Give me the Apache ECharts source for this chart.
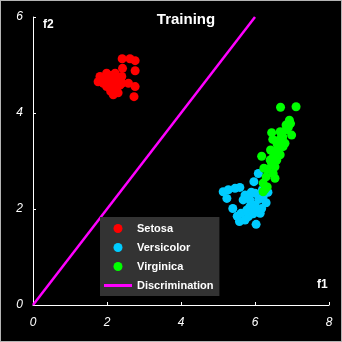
<!DOCTYPE html>
<html><head><meta charset="utf-8">
<script src="https://cdn.jsdelivr.net/npm/echarts@6/dist/echarts.min.js"></script>
<style>
html,body{margin:0;padding:0;background:#b4b4b4;}
#c{position:absolute;left:1px;top:1px;width:340px;height:340px;background:#000;}
</style></head>
<body><div id="c"></div>
<script>
const xTicks = [0, 2, 4, 6, 8];
const yTicks = [0, 2, 4, 6];
const setosa = [
[2.41,5.13],[2.62,5.13],[2.76,5.09],[2.42,4.93],[2.76,4.88],[1.99,4.83],[2.22,4.83],[1.81,4.76],
[1.90,4.69],[2.08,4.72],[2.26,4.72],[2.40,4.76],[2.58,4.62],[2.76,4.55],[1.99,4.55],[2.17,4.51],
[2.35,4.58],[2.17,4.38],[2.73,4.34],[1.90,4.62],[1.76,4.65],[2.05,4.65],[2.20,4.60],[2.30,4.68],
[2.12,4.78],[1.95,4.72],[2.25,4.50],[2.40,4.62],[2.10,4.45],[2.30,4.42],[2.00,4.60]
];
const versicolor = [
[5.14,2.36],[5.28,2.40],[5.46,2.43],[5.59,2.45],[5.24,2.22],[5.40,2.01],[5.52,1.85],[5.58,1.74],
[5.73,1.77],[5.82,1.84],[6.03,1.68],[5.91,1.94],[6.14,1.91],[6.00,2.08],[5.86,2.19],[5.68,2.19],
[5.73,2.29],[6.00,2.33],[6.30,2.13],[6.22,2.26],[5.97,2.57],[6.09,2.74],[6.18,2.01],[5.86,2.05],
[6.05,1.98],[5.62,1.91],[5.78,1.98],[6.10,2.20],[5.95,1.90],[6.20,2.40],[5.90,2.35],[6.35,2.35]
];
const virginica = [
[6.69,4.12],[7.11,4.13],[6.93,3.85],[6.96,3.78],[6.45,3.59],[6.68,3.61],[6.84,3.65],[6.99,3.54],
[6.48,3.45],[6.66,3.44],[6.81,3.37],[6.76,3.30],[6.63,3.23],[6.42,3.23],[6.68,3.13],[6.59,3.02],
[6.18,3.10],[6.41,3.02],[6.54,2.88],[6.33,2.83],[6.24,2.85],[6.49,2.74],[6.30,2.67],[6.54,2.64],
[6.22,2.54],[6.27,2.41],[6.33,2.46],[6.22,2.36],[6.84,3.75],[6.72,3.54],[6.60,3.35],[6.50,3.10],
[6.45,2.95],[6.75,3.50],[6.90,3.70],[6.55,3.20]
];
const discrimination = [[0,0],[6,6]];
const seriesNames = ['Setosa','Versicolor','Virginica','Discrimination'];
const colors = ['#ff0000','#00ccff','#00ff00','#ff00ff'];

const chart = echarts.init(document.getElementById('c'));
const font = 'Liberation Sans, Arial, sans-serif';
const axisCommon = {
  axisLine:{show:true,lineStyle:{color:'#fff',width:1}},
  axisTick:{show:true,inside:true,length:3,lineStyle:{color:'#fff'}},
  splitLine:{show:false},
  axisLabel:{color:'#fff',fontStyle:'italic',fontFamily:font,fontSize:12}
};
chart.setOption({
  backgroundColor:'#000',
  animation:false,
  title:{text:'Training',left:180,textAlign:'center',top:6,
    textStyle:{color:'#fff',fontSize:15,fontWeight:'bold',fontFamily:font}},
  grid:{left:32,right:12,top:16,bottom:36},
  xAxis:Object.assign({type:'value',min:xTicks[0],max:xTicks[xTicks.length-1],interval:2},axisCommon,
    {axisLabel:Object.assign({},axisCommon.axisLabel,{margin:12})}),
  yAxis:Object.assign({type:'value',min:yTicks[0],max:yTicks[yTicks.length-1],interval:2},axisCommon,
    {axisLabel:Object.assign({},axisCommon.axisLabel,{margin:10})}),
  legend:{
    orient:'vertical',left:99,top:216,
    backgroundColor:'#333333',padding:[6,6,5,4],
    itemWidth:28,itemHeight:9,itemGap:8,
    textStyle:{color:'#fff',fontSize:11,fontWeight:'bold',fontFamily:font},
    data:[
      {name:seriesNames[0],icon:'circle'},
      {name:seriesNames[1],icon:'circle'},
      {name:seriesNames[2],icon:'circle'},
      {name:seriesNames[3],icon:'path://M0,0H28V3H0Z'}
    ]
  },
  graphic:[
    {type:'text',left:42,top:18,style:{text:'f2',fill:'#fff',font:'bold 12px '+font}},
    {type:'text',left:316,top:278,style:{text:'f1',fill:'#fff',font:'bold 12px '+font}}
  ],
  series:[
    {name:seriesNames[0],type:'scatter',data:setosa,symbolSize:9,itemStyle:{color:colors[0],opacity:1}},
    {name:seriesNames[1],type:'scatter',data:versicolor,symbolSize:9,itemStyle:{color:colors[1],opacity:1}},
    {name:seriesNames[2],type:'scatter',data:virginica,symbolSize:9,itemStyle:{color:colors[2],opacity:1}},
    {name:seriesNames[3],type:'line',data:discrimination,showSymbol:false,z:1,
      lineStyle:{color:colors[3],width:2.5},itemStyle:{color:colors[3]}}
  ]
});
</script></body></html>
